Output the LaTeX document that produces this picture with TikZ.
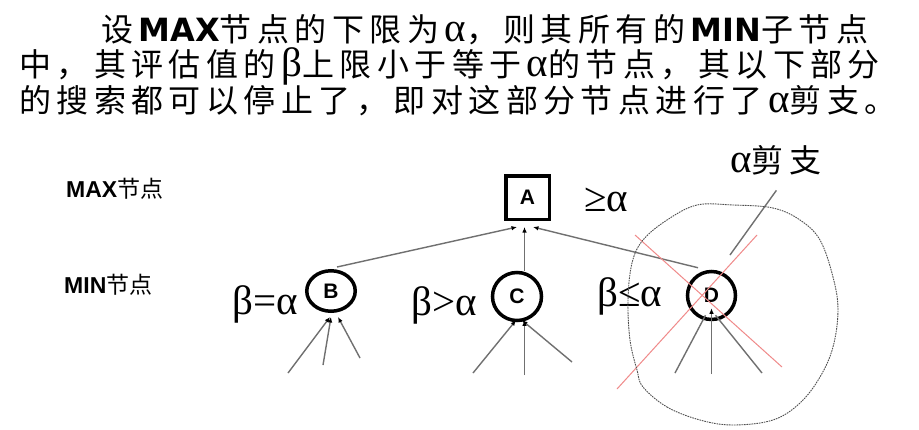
\documentclass[tikz,border=0pt]{standalone}
\usepackage{fontspec}
\usetikzlibrary{arrows.meta,calc,shapes.geometric}
\newfontfamily\cjk{Noto Sans CJK SC}
\newfontfamily\dvs{DejaVu Sans}
\newfontfamily\lser{Liberation Serif}
\newfontfamily\lsan{Liberation Sans}
\definecolor{lgray}{HTML}{707070}
\definecolor{dgray}{HTML}{505050}
\definecolor{pinkred}{HTML}{F08A8A}
\newlength\cw
\setlength\cw{37.45pt}
\makeatletter
\newcommand\cjs[1]{\@tfor\@cjch:=#1\do{\makebox[\cw][l]{\@cjch}}}
\makeatother
\tikzset{
  body/.style={anchor=base west,inner sep=0pt,font=\fontsize{32}{36}\selectfont\cjk},
  smalllab/.style={anchor=base west,inner sep=0pt,font=\fontsize{23}{26}\selectfont},
  greek/.style={anchor=base,inner sep=0pt,font=\fontsize{41}{42}\selectfont\lser},
  minnode/.style={ellipse,draw,line width=3.5pt,inner sep=0pt,font=\fontsize{21}{21}\selectfont\lsan\bfseries},
  maxnode/.style={rectangle,draw,line width=3.5pt,inner sep=0pt,minimum size=43.5pt,font=\fontsize{21}{21}\selectfont\lsan\bfseries},
  edge/.style={draw=lgray,line width=1.4pt,-{Latex[length=5.5pt,width=4.5pt,color=black]}},
  plain/.style={draw=lgray,line width=1.4pt},
  cut/.style={draw=pinkred,line width=1pt},
}
\newcommand{\BMAX}{{\dvs\bfseries MAX}}
\newcommand{\BMIN}{{\dvs\bfseries MIN}}
\newcommand{\ga}{{\fontsize{41}{42}\selectfont\lser α}}
\newcommand{\gb}{{\fontsize{41}{42}\selectfont\lser β}}
\begin{document}
\begin{tikzpicture}[x=1pt,y=-1pt]
\path[use as bounding box,fill=white] (0,0) rectangle (919,429);
% heading text
\node[body] (t1) at (101,41) {\cjs{设}\BMAX\cjs{节点的下限为}\ga\cjs{，则其所有的}\BMIN\cjs{子节点}};
\node[body] (t2) at (19,76.5) {\cjs{中，其评估值的}\gb\cjs{上限小于等于}\ga\cjs{的节点，其以下部分}};
\node[body] (t3) at (19,112) {\cjs{的搜索都可以停止了，即对这部分节点进行了}\ga\cjs{剪支。}};
% level labels
\node[smalllab] (maxlab) at (66,197) {{\lsan\bfseries MAX}{\cjk 节点}};
\node[smalllab] (minlab) at (64,293) {{\lsan\bfseries MIN}{\cjk 节点}};
% nodes
\node[maxnode] (A) at (527.5,197.5) {A};
\node[minnode,minimum width=48.5pt,minimum height=40.5pt] (B) at (331,291) {B};
\node[minnode,minimum width=49pt,minimum height=48pt] (C) at (517,296.5) {C};
\node[minnode,minimum width=48pt,minimum height=48pt] (D) at (711.5,295.5) {D};
% value labels
\node[greek] (ga) at (606,211) {≥α};
\node[greek] (lb) at (265,314) {β=α};
\node[greek] (lc) at (444,315) {β>α};
\node[greek] (ld) at (630,306) {β≤α};
\node[body] (cutlab) at (730,172.5) {\ga\cjs{剪支}};
% parent edges
\coordinate (a1) at (517,227);
\coordinate (a2) at (524.5,227);
\coordinate (a3) at (533,227);
\draw[edge] ([xshift=6pt,yshift=2pt]B.north) -- (a1);
\draw[edge] ([xshift=7.5pt]C.north) -- (a2);
\draw[edge] ([xshift=-13.5pt,yshift=2pt]D.north) -- (a3);
% children of B
\coordinate (b1) at (288,373);
\coordinate (b2) at (323,365);
\coordinate (b3) at (360,358);
\draw[edge] (b1) -- ([xshift=-1pt,yshift=-4pt]B.south);
\draw[edge] (b2) -- ([xshift=0pt,yshift=-4pt]B.south);
\draw[edge] (b3) -- ([xshift=7pt,yshift=-4pt]B.south);
% children of C
\coordinate (c1) at (473,373);
\coordinate (c2) at (524.5,375);
\coordinate (c3) at (572,362);
\draw[edge] (c1) -- ([xshift=-1pt,yshift=2pt]C.south);
\draw[edge] (c2) -- ([xshift=7.5pt,yshift=2pt]C.south);
\draw[edge] (c3) -- ([xshift=5pt,yshift=2pt]C.south);
% children of D
\coordinate (d1) at (675,373);
\coordinate (d2) at (711.5,374);
\coordinate (d3) at (762,373);
\draw[plain] (d1) -- ([xshift=-6pt,yshift=6pt]D.south);
\draw[edge] (d2) -- ([yshift=13pt]D.south);
\draw[plain] (d3) -- ([xshift=4pt,yshift=6pt]D.south);
% cut lines
\coordinate (x1) at (635,235);
\coordinate (x2) at (782,367);
\coordinate (x3) at (757,235);
\coordinate (x4) at (617,389);
\draw[cut] (x1) -- (x2);
\draw[cut] (x3) -- (x4);
% pointer of the cut label
\coordinate (p2) at (730,255);
\draw[plain] ([xshift=-2pt,yshift=-15pt]cutlab.south) -- (p2);
% dotted region
\draw[dgray,line width=0.9pt,dash pattern=on 1.6pt off 0.9pt] plot[smooth cycle,tension=0.6] coordinates {
(643,387) (667,407) (700,420) (733,425) (773,420) (800,403) (820,377) (833,347)
(838,310) (833,277) (820,240) (800,220) (773,208) (733,205) (697,205) (667,220)
(643,240) (632,263) (628,300) (630,340) (637,370)};
\end{tikzpicture}
\end{document}
